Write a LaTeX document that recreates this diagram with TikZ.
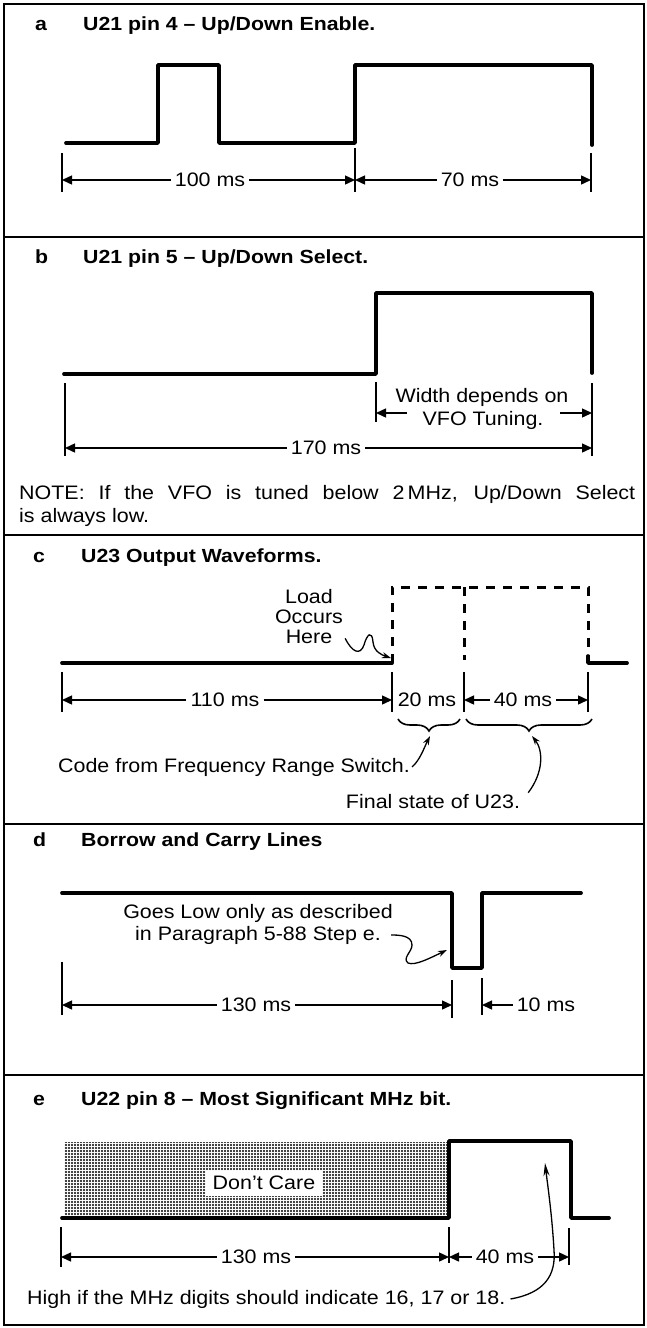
\documentclass[tikz,border=0pt]{standalone}
\usepackage{fontspec}
\setmainfont{Liberation Sans}
\newfontfamily\lblfam[FakeStretch=1.1]{Liberation Sans}
\newfontfamily\ttlfam[FakeStretch=1.12]{Liberation Sans Bold}
\usetikzlibrary{arrows.meta,decorations.pathreplacing,patterns}
\pgfdeclarepatternformonly{halftone}{\pgfqpoint{-1.5pt}{-1.5pt}}{\pgfqpoint{1.5pt}{1.5pt}}{\pgfqpoint{3pt}{3pt}}%
  {\pgfpathcircle{\pgfpointorigin}{1.15pt}\pgfusepath{fill}}
\tikzset{
  frm/.style={line width=1.8pt},
  sig/.style={line width=3.7pt, line join=round, line cap=round},
  sigdash/.style={line width=3pt, dash pattern=on 9pt off 8pt},
  dimtk/.style={line width=1.5pt},
  dimarr/.style={-{Triangle[length=10pt,width=9pt]}, line width=1.4pt},
  dlab/.style={font=\fontsize{19.5}{21}\lblfam, inner sep=4pt},
  txt/.style={font=\fontsize{19.5}{21}\lblfam, inner sep=2pt},
  ttl/.style={font=\fontsize{19}{21}\ttlfam, anchor=base west, inner sep=0pt},
  ann/.style={-{Stealth[length=9pt,width=6pt]}, line width=1.3pt},
  brc/.style={decorate, decoration={brace, mirror, amplitude=12pt}, line width=1.6pt},
}
\newcommand{\dtk}[3]{\draw[dimtk] (#1,#2) -- (#1,#3);}

\begin{document}
\begin{tikzpicture}[x=1pt,y=-1pt]
  \useasboundingbox (0,0) rectangle (647,1328);
  \draw[frm] (4,4) rectangle (644,1325);
  \foreach \yy in {237,535,824,1075} \draw[frm] (4,\yy) -- (644,\yy);

  \node[ttl] (la) at (35,30) {a};
  \node[ttl] (ta) at (83,30) {U21 pin 4 – Up/Down Enable.};
  \draw[sig] (66,143) -- (158,143) -- (158,65) -- (219,65) -- (219,143) -- (355,143)
    -- (355,65) -- (592,65) -- (592,145);
  \dtk{62}{153}{192}\dtk{355}{148}{192}\dtk{591}{153}{192}
  \coordinate (a0) at (62,180); \coordinate (a1) at (355,180); \coordinate (a2) at (591,180);
  \node[dlab] (d100) at (210,180) {100 ms};
  \node[dlab] (d70) at (470,180) {70 ms};
  \draw[dimarr] (d100) -- (a0); \draw[dimarr] (d100) -- (a1);
  \draw[dimarr] (d70) -- (a1); \draw[dimarr] (d70) -- (a2);

  \node[ttl] (lb) at (35,263) {b};
  \node[ttl] (tb) at (83,263) {U21 pin 5 – Up/Down Select.};
  \draw[sig] (64,374) -- (376,374) -- (376,293) -- (592,293) -- (592,373);
  \dtk{65}{383}{456}\dtk{376}{382}{422}\dtk{592}{383}{456}
  \coordinate (b0) at (65,448); \coordinate (b1) at (592,448);
  \coordinate (bm) at (376,413); \coordinate (bn) at (592,413);
  \node[dlab] (d170) at (326,448) {170 ms};
  \draw[dimarr] (d170) -- (b0); \draw[dimarr] (d170) -- (b1);
  \node[txt] (wd1) at (482,397) {Width depends on};
  \node[txt] (wd2) at (483,420) {VFO Tuning.};
  \coordinate (wl) at (407,413); \coordinate (wr) at (560,413);
  \draw[dimarr] (wl) -- (bm); \draw[dimarr] (wr) -- (bn);
  \node[txt, anchor=base west, inner sep=0pt] (nt1) at (19,499)
    {\makebox[616pt][s]{NOTE: If the VFO is tuned below 2\,MHz, Up/Down Select}};
  \node[txt, anchor=base west, inner sep=0pt] (nt2) at (19,522) {is always low.};

  \node[ttl] (lc) at (33,562) {c};
  \node[ttl] (tc) at (81,562) {U23 Output Waveforms.};
  \draw[sig] (62,663) -- (392,663);
  \draw[sigdash] (392,663) -- (392,587) -- (588,587) -- (588,663);
  \draw[sigdash] (464,587) -- (464,660);
  \draw[sig] (588,656) -- (588,663) -- (627,663);
  \dtk{62}{672}{712}\dtk{392}{672}{712}\dtk{464}{672}{712}\dtk{588}{672}{712}
  \coordinate (c0) at (62,700); \coordinate (c1) at (392,700);
  \coordinate (c2) at (464,700); \coordinate (c3) at (588,700);
  \node[dlab] (d110) at (225,700) {110 ms};
  \node[dlab] (d20) at (427,700) {20 ms};
  \node[dlab] (d40c) at (523,700) {40 ms};
  \draw[dimarr] (d110) -- (c0); \draw[dimarr] (d110) -- (c1);
  \draw[dimarr] (d40c) -- (c2); \draw[dimarr] (d40c) -- (c3);
  \draw[brc] (398,719) -- (460,719);
  \draw[brc] (466,719) -- (592,719);
  \coordinate (bt1) at (430,736); \coordinate (bt2) at (532,736);
  \node[txt, align=center, font=\fontsize{19.5}{20}\lblfam] (lod) at (309,617) {Load\\Occurs\\Here};
  \draw[ann] ([yshift=8pt]lod.south east) .. controls (352,652) and (360,656) .. (364,645)
    .. controls (367,634) and (372,630) .. (373,642) .. controls (374,652) and (382,655) .. (391,658);
  \node[txt] (cfr) at (234,767) {Code from Frequency Range Switch.};
  \draw[ann] (cfr.east) .. controls (420,760) and (424,748) .. (bt1);
  \node[txt] (fsu) at (433,802) {Final state of U23.};
  \draw[ann] ([xshift=6pt]fsu.north east) .. controls (544,772) and (543,750) .. (bt2);

  \node[ttl] (ld) at (33,846) {d};
  \node[ttl] (td) at (81,846) {Borrow and Carry Lines};
  \draw[sig] (62,893) -- (452,893) -- (452,968) -- (482,968) -- (482,893) -- (581,893);
  \node[txt] (gl1) at (258,913) {Goes Low only as described};
  \node[txt] (gl2) at (258,935) {in Paragraph 5-88 Step e.};
  \draw[ann] ([xshift=8pt]gl2.east) .. controls (398,935) and (412,935) .. (412,945)
    .. controls (412,952) and (402,958) .. (408,963) .. controls (415,966) and (430,958) .. (447,950);
  \dtk{62}{962}{1015}\dtk{452}{980}{1018}\dtk{482}{978}{1015}
  \coordinate (e0) at (62,1005); \coordinate (e1) at (452,1005); \coordinate (e2) at (482,1005);
  \node[dlab] (d130d) at (256,1005) {130 ms};
  \node[dlab] (d10) at (546,1005) {10 ms};
  \draw[dimarr] (d130d) -- (e0); \draw[dimarr] (d130d) -- (e1);
  \draw[dimarr] (d10) -- (e2);

  \node[ttl] (le) at (33,1105) {e};
  \node[ttl] (te) at (81,1105) {U22 pin 8 – Most Significant MHz bit.};
  \fill[pattern=halftone, pattern color=black] (64,1142) rectangle (448,1217);
  \node[txt, fill=white, minimum width=116pt, minimum height=25pt, inner sep=0pt] (dc) at (264,1183) {Don’t Care};
  \draw[sig] (62,1218) -- (449,1218) -- (449,1141) -- (571,1141) -- (571,1218) -- (609,1218);
  \dtk{61}{1227}{1267}\dtk{449}{1227}{1263}\dtk{569}{1228}{1265}
  \coordinate (f0) at (61,1257); \coordinate (f1) at (449,1257); \coordinate (f2) at (569,1257);
  \node[dlab] (d130e) at (256,1257) {130 ms};
  \node[dlab] (d40e) at (505,1257) {40 ms};
  \draw[dimarr] (d130e) -- (f0); \draw[dimarr] (d130e) -- (f1);
  \draw[dimarr] (d40e) -- (f1); \draw[dimarr] (d40e) -- (f2);
  \node[txt, anchor=base west, inner sep=0pt] (hi) at (27,1304) {High if the MHz digits should indicate 16, 17 or 18.};
  \coordinate (et) at (545,1163);
  \draw[ann, -{Stealth[length=13pt,width=6pt]}] ([xshift=5pt]hi.east) .. controls (545,1293) and (556,1275) .. (554,1250)
    .. controls (552,1215) and (548,1188) .. (et);
\end{tikzpicture}
\end{document}
